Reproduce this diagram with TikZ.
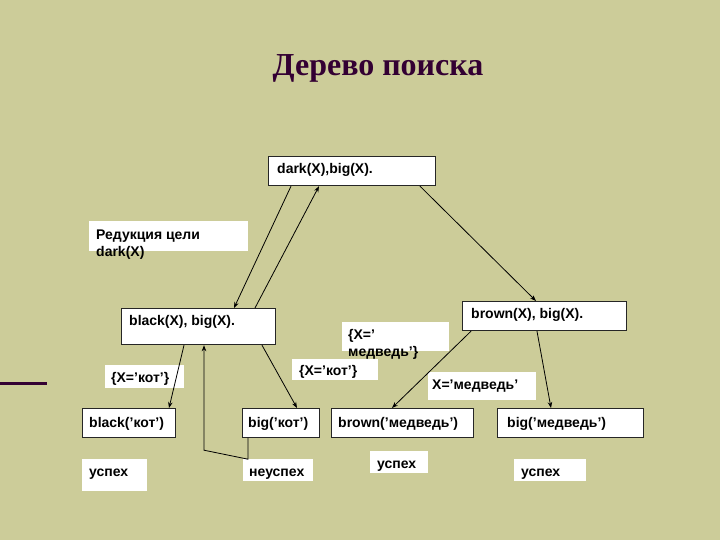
\documentclass[tikz,border=0pt]{standalone}
\usepackage{fontspec}
\setmainfont{Liberation Sans}
\newfontfamily\titlefont{Liberation Serif}
\usetikzlibrary{arrows.meta, positioning}
\definecolor{olivebg}{RGB}{204, 204, 153}
\definecolor{plumtitle}{RGB}{51, 0, 51}

\begin{document}
\begin{tikzpicture}[x=1pt, y=-1pt,
    goal/.style={draw=black!85, fill=white, line width=1.2pt, anchor=north west, inner sep=0pt},
    note/.style={fill=white, anchor=north west, inner sep=0pt},
    txt/.style={anchor=base west, inner sep=0pt, align=left, font=\fontsize{14}{17}\selectfont\bfseries},
    link/.style={-{Stealth[length=6pt, width=4.5pt]}, line width=0.8pt}]
    % Background
    \fill[olivebg] (0,0) rectangle (720,540);
    \useasboundingbox (0,0) rectangle (720,540);

    % Title
    \node[plumtitle, font=\titlefont\fontsize{32}{36}\selectfont\bfseries] (title) at (378,68) {Дерево поиска};
    \draw[plumtitle, line width=3pt] (0,383) -- (47,383);

    % Goal boxes
    \node[goal, minimum width=167pt, minimum height=29pt] (dark) at (268,156) {};
    \node[goal, minimum width=154pt, minimum height=36pt] (black) at (121,308) {};
    \node[goal, minimum width=164pt, minimum height=29pt] (brown) at (462,301) {};
    \node[goal, minimum width=93pt, minimum height=29pt] (bk) at (82,408) {};
    \node[goal, minimum width=77pt, minimum height=29pt] (bgk) at (242,408) {};
    \node[goal, minimum width=142pt, minimum height=29pt] (brm) at (331,408) {};
    \node[goal, minimum width=146pt, minimum height=29pt] (bgm) at (497,408) {};

    \node[txt] (dark-t) at ([shift={(9,18)}]dark.north west) {dark(X),big(X).};
    \node[txt] (black-t) at ([shift={(8,17)}]black.north west) {black(X), big(X).};
    \node[txt] (brown-t) at ([shift={(9,17)}]brown.north west) {brown(X), big(X).};
    \node[txt] (bk-t) at ([shift={(7,19)}]bk.north west) {black(’кот’)};
    \node[txt] (bgk-t) at ([shift={(6,19)}]bgk.north west) {big(’кот’)};
    \node[txt] (brm-t) at ([shift={(7,19)}]brm.north west) {brown('медведь')};
    \node[txt] (bgm-t) at ([shift={(10,19)}]bgm.north west) {big(’медведь’)};

    % Notes
    \node[note, minimum width=159pt, minimum height=30pt] (reduce) at (89,221) {};
    \node[note, minimum width=107pt, minimum height=29pt] (bear1) at (342,322) {};
    \node[note, minimum width=79pt, minimum height=23pt] (cat1) at (105,365) {};
    \node[note, minimum width=86pt, minimum height=21pt] (cat2) at (292,359) {};
    \node[note, minimum width=108pt, minimum height=28pt] (bear2) at (428,372) {};
    \node[note, minimum width=65pt, minimum height=32pt] (ok1) at (82,459) {};
    \node[note, minimum width=70pt, minimum height=22pt] (fail) at (243,459) {};
    \node[note, minimum width=58pt, minimum height=22pt] (ok2) at (370,451) {};
    \node[note, minimum width=72pt, minimum height=22pt] (ok3) at (514,459) {};

    \node[txt] (reduce-t) at ([shift={(7,35)}]reduce.north west) {Редукция цели\\dark(X)};
    \node[txt] (bear1-t) at ([shift={(6,34)}]bear1.north west) {\{X=’\\медведь’\}};
    \node[txt] (cat1-t) at ([shift={(6,17)}]cat1.north west) {\{X=’кот’\}};
    \node[txt] (cat2-t) at ([shift={(7,16)}]cat2.north west) {\{X=’кот’\}};
    \node[txt] (bear2-t) at ([shift={(4,17)}]bear2.north west) {X=’медведь’};
    \node[txt] (ok1-t) at ([shift={(7,17)}]ok1.north west) {успех};
    \node[txt] (fail-t) at ([shift={(6,17)}]fail.north west) {неуспех};
    \node[txt] (ok2-t) at ([shift={(7,17)}]ok2.north west) {успех};
    \node[txt] (ok3-t) at ([shift={(7,17)}]ok3.north west) {успех};

    % Arrows
    \draw[link] ([xshift=23pt]dark.south west) -- ([xshift=113pt]black.north west);
    \draw[link] ([xshift=134pt]black.north west) -- ([xshift=51pt]dark.south west);
    \draw[link] ([xshift=152pt]dark.south west) -- ([xshift=74pt]brown.north west);
    \draw[link] ([xshift=63pt]black.south west) -- ([xshift=87pt]bk.north west);
    \draw[link] ([xshift=141pt]black.south west) -- ([xshift=55pt]bgk.north west);
    \draw[link] ([xshift=6pt]bgk.south west) -- ++(0,21) -- ++(-44,-9) -- ([xshift=83pt]black.south west);
    \draw[link] ([xshift=9pt]brown.south west) -- ([xshift=61pt]brm.north west);
    \draw[link] ([xshift=75pt]brown.south west) -- ([xshift=54pt]bgm.north west);
\end{tikzpicture}
\end{document}
